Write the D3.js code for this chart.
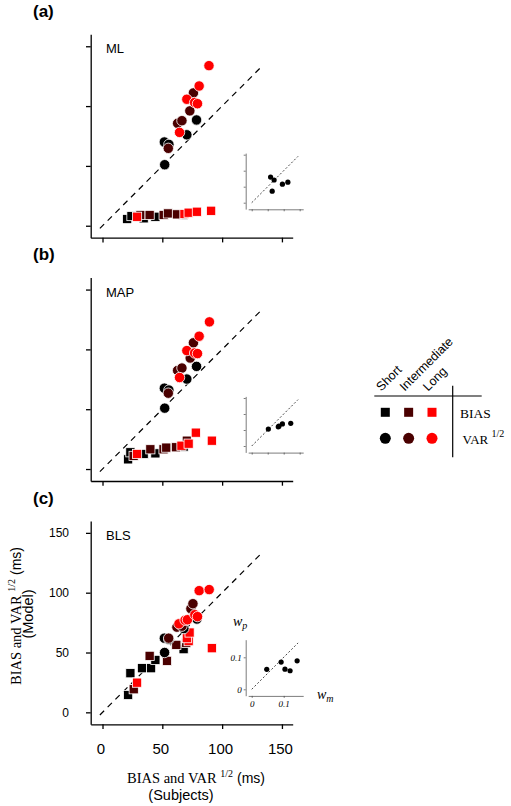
<!DOCTYPE html>
<html><head><meta charset="utf-8">
<script src="https://cdn.jsdelivr.net/npm/d3@7"></script>
<style>body{margin:0;background:#fff}svg{display:block}</style></head>
<body><svg id="chart" width="511" height="806"></svg>
<script>
// ---------------- data ----------------
const conditions = ["Short", "Intermediate", "Long"];
const condColors = ["#000000", "#4a0000", "#ff0000"];
const models = ["ML", "MAP", "BLS"];
const panelLetters = ["(a)", "(b)", "(c)"];
const axisTicks = [0, 50, 100, 150];
const insetTicks = [0, 0.05, 0.1, 0.15];
const insetLabelTicks = [0, 0.1];

// BIAS (squares): [subject, model]
const mlBiasShort = [[20.6,5.6],[24.2,8.1],[34.4,6.2],[44.2,7.5],[67.2,9]];
const mlBiasInter = [[31.7,9],[39.4,9],[51.1,9],[54.7,10.3],[62.2,9.5]];
const mlBiasLong  = [[28.9,7.5],[68.5,9.8],[72,10.9],[78.9,11.7],[90.8,12.5]];
const mapBiasShort = [[21.4,8.1],[23.3,14],[34.4,12.6],[44.2,13.1],[67.8,18.7]];
const mapBiasInter = [[26,11],[40,16.5],[51,16.5],[53.3,17.9],[61.4,18.2],[70.5,23.7]];
const mapBiasLong  = [[28.9,12.6],[66,19.5],[72,21.2],[78,30.4],[91.4,23.7]];
const blsBiasShort = [[21.4,14.5],[23.3,32.7],[33,36.9],[40.6,36.9],[44.2,43.8],[67.8,52.8]];
const blsBiasInter = [[26.1,19.3],[39.4,47.2],[53.9,43],[61.7,56.4],[70,58]];
const blsBiasLong  = [[28.9,24.8],[72,59.5],[70.5,62],[72.8,66.7],[91.4,53.6]];

// VAR^1/2 (circles): [subject, model]
const mlVarShort = [[52,51],[51.7,70],[55.5,68],[70.5,76],[78.6,88.4]];
const mlVarInter = [[55,64.7],[62.8,85.6],[66.4,87.8],[73,96],[76,111]];
const mlVarLong  = [[64.4,78],[70.5,105.7],[77,103],[79.4,102],[80.8,116.8],[89,133.8]];
const mapVarShort = [[52,50.9],[51.7,67.6],[55.5,66],[70.5,75.2],[78.6,85.8]];
const mapVarInter = [[55,63.4],[62.8,82.4],[66.4,84.4],[73.3,92.8],[76,105.5]];
const mapVarLong  = [[64.4,76.5],[70.5,99],[77,97],[79.4,96.5],[80.8,111],[89.4,123]];
const blsVarShort = [[51.9,50],[51.7,62],[55.5,61],[68,70],[78.9,78]];
const blsVarInter = [[55.3,62],[62.2,71.2],[66.4,72],[73.9,86.6],[75.6,90.8]];
const blsVarLong  = [[63.9,74],[69,77],[71,77.4],[77.2,81.6],[79.4,80],[80.8,101.7],[89.2,102.6]];

// insets: w_m (x) vs w_p (y)
const mlInset  = [[0.059,0.080],[0.070,0.071],[0.064,0.036],[0.096,0.058],[0.113,0.064]];
const mapInset = [[0.052,0.053],[0.085,0.062],[0.083,0.060],[0.096,0.069],[0.122,0.071]];
const blsInset = [[0.047,0.0625],[0.092,0.085],[0.104,0.063],[0.120,0.058],[0.142,0.089]];

const biasSets = [[mlBiasShort, mlBiasInter, mlBiasLong],[mapBiasShort, mapBiasInter, mapBiasLong],[blsBiasShort, blsBiasInter, blsBiasLong]];
const varSets  = [[mlVarShort, mlVarInter, mlVarLong],[mapVarShort, mapVarInter, mapVarLong],[blsVarShort, blsVarInter, blsVarLong]];
const insetSets = [mlInset, mapInset, blsInset];

// ---------------- drawing ----------------
const svg = d3.select("#chart");
svg.append("rect").attr("width",511).attr("height",806).attr("fill","#fff");
const SANS = "'Liberation Sans', Arial, Helvetica, sans-serif";
const SERIF = "'Liberation Serif', 'Times New Roman', serif";

const x = d3.scaleLinear().domain([-9.87, 159]).range([90.7, 292.7]);
const y = d3.scaleLinear().domain([-10, 160]).range([237.7, 34.3]);
const ix = d3.scaleLinear().domain([-0.011, 0.161]).range([248.2, 303.2]);
const iy = d3.scaleLinear().domain([-0.02, 0.155]).range([209.1, 153.1]);
const panelStep = 243.3;

models.forEach((m, i) => {
  const g = svg.append("g").attr("transform", `translate(0,${i*panelStep})`);

  // panel letter
  svg.append("text").attr("x", 33).attr("y", 17 + i*panelStep)
    .attr("font-family", SANS).attr("font-weight", "bold").attr("font-size", 17)
    .text(panelLetters[i]);

  // axes
  const ya = d3.axisLeft(y).tickValues(axisTicks).tickSize(4.7).tickSizeOuter(0).tickPadding(17)
    .tickFormat(i === 2 ? d3.format("d") : () => "");
  const yg = g.append("g").attr("transform", "translate(90.7,0)").call(ya);
  const xa = d3.axisBottom(x).tickValues(axisTicks).tickSize(4.7).tickSizeOuter(0).tickPadding(14.6)
    .tickFormat(i === 2 ? d3.format("d") : () => "");
  const xg = g.append("g").attr("transform", "translate(0,237.7)").call(xa);
  [yg, xg].forEach(a => {
    a.selectAll("path,line").attr("stroke", "#000").attr("stroke-width", 1.3);
  });
  yg.selectAll("text").attr("font-family", SANS).attr("font-size", 12).attr("fill", "#000");
  xg.selectAll("text").attr("font-family", SANS).attr("font-size", 15).attr("fill", "#000").attr("dx", -2);

  // diagonal
  g.append("line")
    .attr("x1", x(-2.2)).attr("y1", y(-2.2)).attr("x2", x(133)).attr("y2", y(133))
    .attr("stroke", "#000").attr("stroke-width", 1.2).attr("stroke-dasharray", "6,5");

  // model label
  g.append("text").attr("x", 106).attr("y", 53.3).attr("font-family", SANS).attr("font-size", 13).text(m);

  // inset
  const ig = g.append("g");
  const iya = d3.axisLeft(iy).tickValues(i === 2 ? insetLabelTicks : insetTicks).tickSize(2).tickSizeOuter(0).tickPadding(2)
    .tickFormat(i === 2 ? (d => d === 0 ? "0" : "0.1") : () => "");
  const ixa = d3.axisBottom(ix).tickValues(i === 2 ? insetLabelTicks : insetTicks).tickSize(2).tickSizeOuter(0).tickPadding(3)
    .tickFormat(i === 2 ? (d => d === 0 ? "0" : "0.1") : () => "");
  const iyg = ig.append("g").attr("transform", "translate(245.7,0)").call(iya);
  const ixg = ig.append("g").attr("transform", "translate(0,209.3)").call(ixa);
  [iyg, ixg].forEach(a => {
    a.selectAll("path,line").attr("stroke", "#444").attr("stroke-width", 0.7);
    a.selectAll("text").attr("font-family", SERIF).attr("font-style", "italic").attr("font-size", 9).attr("fill", "#000");
  });
  ig.append("line").attr("x1", ix(0)).attr("y1", iy(0)).attr("x2", ix(0.145)).attr("y2", iy(0.145))
    .attr("stroke", "#333").attr("stroke-width", 0.9).attr("stroke-dasharray", "2,2");
  ig.selectAll("circle.ins").data(insetSets[i]).join("circle")
    .attr("cx", d => ix(d[0])).attr("cy", d => iy(d[1])).attr("r", 2.6).attr("fill", "#000");
  if (i === 2) {
    const wp = ig.append("text").attr("x", 233).attr("y", 139).attr("font-family", SERIF)
      .attr("font-style", "italic").attr("font-size", 14);
    wp.append("tspan").text("w");
    wp.append("tspan").attr("font-size", 10).attr("dy", 3).text("p");
    const wm = ig.append("text").attr("x", 317).attr("y", 212).attr("font-family", SERIF)
      .attr("font-style", "italic").attr("font-size", 14);
    wm.append("tspan").text("w");
    wm.append("tspan").attr("font-size", 10).attr("dy", 3).text("m");
  }

  // squares (BIAS)
  biasSets[i].forEach((arr, c) => {
    g.append("g").selectAll("rect").data(arr).join("rect")
      .attr("x", d => x(d[0]) - 4.6).attr("y", d => y(d[1]) - 4.6)
      .attr("width", 9.2).attr("height", 9.2)
      .attr("fill", condColors[c]).attr("stroke", "#fff").attr("stroke-width", 0.8);
  });
  // circles (VAR^1/2)
  varSets[i].forEach((arr, c) => {
    g.append("g").selectAll("circle").data(arr).join("circle")
      .attr("cx", d => x(d[0])).attr("cy", d => y(d[1])).attr("r", 5.2)
      .attr("fill", condColors[c]).attr("stroke", "#fff").attr("stroke-width", 0.8);
  });
});

// axis titles
const xt = svg.append("text").attr("x", 196).attr("y", 783).attr("text-anchor", "middle")
  .attr("font-family", SERIF).attr("font-size", 14.5);
xt.append("tspan").text("BIAS and VAR ");
xt.append("tspan").attr("font-size", 10).attr("dy", -6).text("1/2");
xt.append("tspan").attr("dy", 6).attr("font-family", SANS).attr("font-size", 14).text(" (ms)");
svg.append("text").attr("x", 181).attr("y", 800).attr("text-anchor", "middle")
  .attr("font-family", SANS).attr("font-size", 14.5).text("(Subjects)");

const yt = svg.append("text").attr("transform", "translate(21,616) rotate(-90)").attr("text-anchor", "middle")
  .attr("font-family", SERIF).attr("font-size", 14.5);
yt.append("tspan").text("BIAS and VAR ");
yt.append("tspan").attr("font-size", 10).attr("dy", -6).text("1/2");
yt.append("tspan").attr("dy", 6).attr("font-family", SANS).attr("font-size", 14).text(" (ms)");
svg.append("text").attr("transform", "translate(33,614) rotate(-90)").attr("text-anchor", "middle")
  .attr("font-family", SANS).attr("font-size", 14.5).text("(Model)");

// legend
const leg = svg.append("g");
const lx = d3.scalePoint().domain(conditions).range([385.3, 432]);
leg.append("line").attr("x1", 374.3).attr("x2", 481.7).attr("y1", 396).attr("y2", 396).attr("stroke", "#000").attr("stroke-width", 1.2);
leg.append("line").attr("x1", 452.7).attr("x2", 452.7).attr("y1", 385.7).attr("y2", 457.3).attr("stroke", "#000").attr("stroke-width", 1.2);
conditions.forEach((c, k) => {
  leg.append("text").attr("transform", `translate(${lx(c) - 4},391.7) rotate(-45)`)
    .attr("font-family", SANS).attr("font-size", 12.5).text(c);
  leg.append("rect").attr("x", lx(c) - 4.5).attr("y", 412.3 - 4.5).attr("width", 9).attr("height", 9).attr("fill", condColors[k]);
  leg.append("circle").attr("cx", lx(c)).attr("cy", 438.3).attr("r", 5.5).attr("fill", condColors[k]);
});
leg.append("text").attr("x", 460).attr("y", 417.5).attr("font-family", SERIF).attr("font-size", 13.5).text("BIAS");
const vt = leg.append("text").attr("x", 462.5).attr("y", 444).attr("font-family", SERIF).attr("font-size", 13);
vt.append("tspan").text("VAR ");
vt.append("tspan").attr("font-size", 10).attr("dy", -7).text("1/2");
</script>
</body></html>
